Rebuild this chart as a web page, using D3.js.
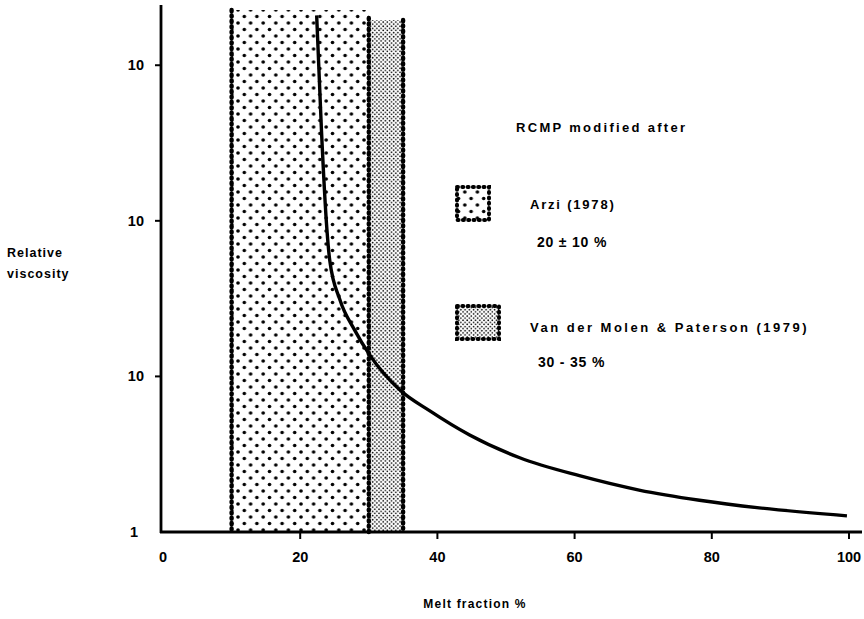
<!DOCTYPE html>
<html><head><meta charset="utf-8">
<script src="https://cdn.jsdelivr.net/npm/d3@7/dist/d3.min.js"></script>
<style>
body{margin:0;background:#fff;}
text{font-family:"Liberation Sans",Arial,sans-serif;font-weight:bold;fill:#000;}
</style></head>
<body><svg id="c" width="864" height="619"></svg>
<script>
// data
const xTicks = [0, 20, 40, 60, 80, 100];
const xTickLabels = ["0", "20", "40", "60", "80", "100"];
const yTicks = [1, 10, 100, 1000];
const yTickLabels = ["1", "10", "10", "10"];
const meltFraction = [22.4, 23.1, 23.9, 24.3, 25.8, 27.9, 30.1, 34.5, 38.9, 44.7, 52.0, 60.7, 69.4, 78.2, 86.9, 99.7];
const viscosity = [2090, 380, 87, 56, 31, 20, 13.8, 8.2, 6.0, 4.2, 3.0, 2.3, 1.86, 1.6, 1.43, 1.27];
const arziRange = [10, 30];
const vdmRange = [30, 35];
const legendTitle = "RCMP modified after";
const legendNames = ["Arzi (1978)", "Van der Molen & Paterson (1979)"];
const legendRanges = ["20 ± 10 %", "30 - 35 %"];

const svg = d3.select("#c");
const x = d3.scaleLinear().domain([0, 100]).range([163, 849]);
const y = d3.scaleLog().domain([1, Math.pow(10, 3.4)]).range([532, 3]);

const defs = svg.append("defs");
const p1 = defs.append("pattern").attr("id", "arzi").attr("patternUnits", "userSpaceOnUse")
  .attr("width", 12.6).attr("height", 13).attr("x", 236).attr("y", 8);
p1.append("circle").attr("cx", 2).attr("cy", 2).attr("r", 1.8);
p1.append("circle").attr("cx", 8.3).attr("cy", 8.5).attr("r", 1.8);
const p2 = defs.append("pattern").attr("id", "vdm").attr("patternUnits", "userSpaceOnUse")
  .attr("width", 4.2).attr("height", 4.2);
p2.append("circle").attr("cx", 1).attr("cy", 1).attr("r", 0.85);
p2.append("circle").attr("cx", 3.1).attr("cy", 3.1).attr("r", 0.85);

// shaded ranges
svg.append("rect").attr("x", x(arziRange[0])).attr("y", 10)
  .attr("width", x(arziRange[1]) - x(arziRange[0])).attr("height", 532 - 10)
  .attr("fill", "url(#arzi)");
svg.append("rect").attr("x", x(vdmRange[0])).attr("y", 20)
  .attr("width", x(vdmRange[1]) - x(vdmRange[0])).attr("height", 532 - 20)
  .attr("fill", "url(#vdm)");
const edge = (xv, top) => svg.append("line").attr("x1", x(xv)).attr("x2", x(xv))
  .attr("y1", top).attr("y2", 532).attr("stroke", "#000").attr("stroke-width", 4.4)
  .attr("stroke-dasharray", "1.2,4.2").attr("stroke-linecap", "round");
edge(arziRange[0], 10); edge(arziRange[1], 18); edge(vdmRange[1], 20);

// axes
svg.append("line").attr("x1", 161).attr("x2", 161).attr("y1", 5).attr("y2", 533)
  .attr("stroke", "#000").attr("stroke-width", 2.8);
svg.append("line").attr("x1", 160).attr("x2", 862).attr("y1", 532).attr("y2", 532)
  .attr("stroke", "#000").attr("stroke-width", 2.8);

xTicks.forEach((t, i) => {
  if (t > 0) svg.append("line").attr("x1", x(t)).attr("x2", x(t)).attr("y1", 532).attr("y2", 539)
    .attr("stroke", "#000").attr("stroke-width", 2);
  svg.append("text").attr("x", x(t)).attr("y", 562).attr("text-anchor", "middle")
    .attr("font-size", 14.5).text(xTickLabels[i]);
});
yTicks.forEach((t, i) => {
  if (t > 1) svg.append("line").attr("x1", 155).attr("x2", 161).attr("y1", y(t)).attr("y2", y(t))
    .attr("stroke", "#000").attr("stroke-width", 2);
  svg.append("text").attr("x", t > 1 ? 144 : 138).attr("y", y(t) + 5).attr("text-anchor", "end")
    .attr("font-size", 14.5).text(yTickLabels[i]);
});

// curve
const pts = meltFraction.map((m, i) => [x(m), y(viscosity[i])]);
svg.append("path").attr("d", d3.line().curve(d3.curveMonotoneX)(pts))
  .attr("fill", "none").attr("stroke", "#000").attr("stroke-width", 3.4);

// axis titles
svg.append("text").attr("x", 7).attr("y", 257).attr("font-size", 12.5).attr("letter-spacing", 1).text("Relative");
svg.append("text").attr("x", 7).attr("y", 278).attr("font-size", 12.5).attr("letter-spacing", 1).text("viscosity");
svg.append("text").attr("x", 475).attr("y", 608).attr("text-anchor", "middle").attr("font-size", 12)
  .attr("letter-spacing", 1.2).text("Melt fraction %");

// legend
svg.append("text").attr("x", 516).attr("y", 132).attr("font-size", 13).attr("letter-spacing", 2.3).text(legendTitle);
svg.append("rect").attr("x", 457).attr("y", 187).attr("width", 32).attr("height", 33).attr("fill", "url(#arzi)");
svg.append("rect").attr("x", 457).attr("y", 187).attr("width", 32).attr("height", 33).attr("fill", "none")
  .attr("stroke", "#000").attr("stroke-width", 4).attr("stroke-dasharray", "1,4.3").attr("stroke-linecap", "round");
svg.append("rect").attr("x", 457).attr("y", 306).attr("width", 42).attr("height", 33).attr("fill", "url(#vdm)");
svg.append("rect").attr("x", 457).attr("y", 306).attr("width", 42).attr("height", 33).attr("fill", "none")
  .attr("stroke", "#000").attr("stroke-width", 4).attr("stroke-dasharray", "1,4.3").attr("stroke-linecap", "round");
svg.append("text").attr("x", 530).attr("y", 209).attr("font-size", 13).attr("letter-spacing", 1.8).text(legendNames[0]);
svg.append("text").attr("x", 537).attr("y", 247).attr("font-size", 14).attr("letter-spacing", 0.8).text(legendRanges[0]);
svg.append("text").attr("x", 530).attr("y", 332).attr("font-size", 13).attr("letter-spacing", 2.5).text(legendNames[1]);
svg.append("text").attr("x", 538).attr("y", 367).attr("font-size", 14).attr("letter-spacing", 0.8).text(legendRanges[1]);
</script></body></html>
